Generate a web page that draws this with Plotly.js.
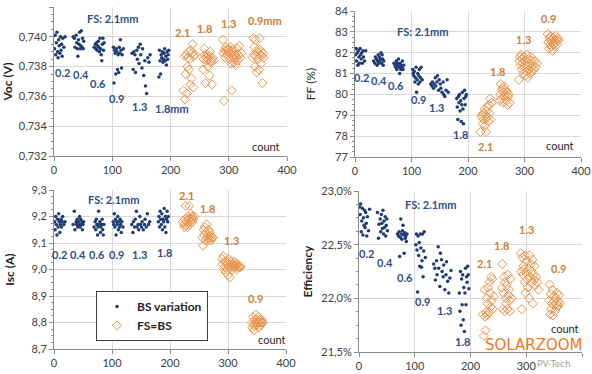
<!DOCTYPE html>
<html>
<head>
<meta charset="utf-8">
<script src="https://cdn.plot.ly/plotly-3.0.1.min.js"></script>
<style>html,body{margin:0;padding:0;background:#fff;}#chart{width:592px;height:374px;}</style>
</head>
<body>
<div id="chart"></div>
<script>
// ---- data (count position of each cell) ----
const bsCount = [
  1,2,3,4,5,6,7,8,9,10,11,12,13,14,15,17,19,
  33,35,36,38,39,40,41,42,43,44,45,46,47,48,49,50,51,
  69,71,72,73,74,75,76,77,78,79,80,81,82,83,84,85,86,
  102,103,104,105,106,107,108,109,110,111,112,113,114,115,116,117,119,
  134,136,137,139,140,142,143,145,146,148,149,151,152,154,156,157,159,161,163,165,
  180,181,182,183,184,185,186,187,188,189,190,191,192,193,194,195,196,197
];
const fsCount = [
  222,224,225,226,227,228,229,230,231,232,233,234,235,236,237,238,239,240,242,
  256,257,258,259,260,261,262,263,264,265,266,267,268,269,270,271,272,274,
  290,291,292,293,294,295,296,297,298,299,300,301,302,303,304,305,306,307,308,309,310,311,312,313,314,315,316,318,320,322,
  341,342,343,344,345,346,347,348,349,350,351,352,353,354,355,356,357,358,359,360
];
const vocBS = [
  0.7392,0.7401,0.7388,0.7396,0.7403,0.7390,0.7386,0.7398,0.7394,0.7389,0.7400,0.7391,0.7395,0.7387,0.7399,0.7393,0.7400,
  0.7400,0.7399,0.7393,0.7401,0.7396,0.7392,0.7387,0.7398,0.7395,0.7403,0.7392,0.7394,0.7404,0.7393,0.7399,0.7392,0.7397,
  0.7393,0.7395,0.7392,0.7396,0.7391,0.7394,0.7397,0.7393,0.7390,0.7399,0.7392,0.7388,0.7384,0.7395,0.7399,0.7391,0.7396,
  0.7393,0.7369,0.7391,0.7389,0.7375,0.7392,0.7390,0.7378,0.7388,0.7376,0.7393,0.7389,0.7398,0.7391,0.7379,0.7388,0.7392,
  0.7389,0.7378,0.7390,0.7388,0.7376,0.7391,0.7385,0.7393,0.7382,0.7395,0.7388,0.7379,0.7392,0.7374,0.7384,0.7367,0.7362,0.7386,0.7383,0.7388,
  0.7373,0.7391,0.7384,0.7375,0.7388,0.7386,0.7390,0.7383,0.7385,0.7389,0.7392,0.7384,0.7387,0.7381,0.7390,0.7385,0.7388,0.7391
];
const vocFS = [
  0.7364,0.7387,0.7358,0.7375,0.7388,0.7362,0.7380,0.7386,0.7390,0.7378,0.7385,0.7368,0.7391,0.7372,0.7389,0.7395,0.7366,0.7387,0.7388,
  0.7378,0.7385,0.7392,0.7388,0.7369,0.7386,0.7384,0.7388,0.7380,0.7385,0.7387,0.7374,0.7390,0.7383,0.7384,0.7368,0.7386,0.7384,
  0.7398,0.7389,0.7357,0.7391,0.7386,0.7393,0.7390,0.7388,0.7391,0.7392,0.7390,0.7385,0.7389,0.7393,0.7382,0.7364,0.7391,0.7387,0.7390,0.7383,0.7385,0.7388,0.7381,0.7386,0.7392,0.7384,0.7388,0.7394,0.7386,0.7389,
  0.7386,0.7399,0.7388,0.7393,0.7380,0.7398,0.7387,0.7376,0.7390,0.7385,0.7392,0.7378,0.7399,0.7388,0.7382,0.7390,0.7387,0.7369,0.7389,0.7386
];
const ffBS = [
  81.9,82.2,81.6,82.0,81.4,82.1,81.8,81.5,82.2,81.9,81.7,82.0,81.5,82.1,81.8,81.6,82.1,
  81.6,81.5,81.8,81.7,81.4,81.6,81.9,81.5,81.8,81.6,81.7,82.0,81.5,81.9,81.7,81.4,81.6,
  81.5,81.4,81.3,81.6,81.2,81.5,81.4,81.7,81.3,81.0,81.5,81.2,81.4,81.3,81.6,81.2,81.4,
  81.2,81.0,80.9,81.1,80.6,80.8,81.3,80.1,80.7,81.0,80.5,80.9,81.2,80.6,80.8,81.3,80.7,
  80.5,80.4,80.6,80.3,80.5,80.8,80.4,80.6,80.9,80.2,80.7,80.5,80.3,80.1,80.6,80.0,79.9,80.2,80.7,80.1,
  79.8,79.4,78.8,79.9,79.6,80.0,79.2,79.7,78.7,79.5,80.1,79.3,78.6,79.8,80.2,79.5,79.9,80.0
];
const ffFS = [
  78.2,78.9,79.0,78.6,79.1,78.8,79.3,78.5,79.0,78.2,79.2,78.9,79.4,78.7,79.5,79.1,79.8,78.8,79.6,
  79.7,80.0,80.5,79.8,80.2,80.3,79.6,80.1,80.4,79.9,80.0,80.2,79.7,80.1,79.5,79.9,80.0,79.6,
  80.7,81.6,81.8,81.4,81.9,81.2,81.7,81.5,81.0,81.8,81.3,80.9,81.6,81.1,81.9,81.4,80.8,81.7,81.2,81.5,81.0,81.8,81.3,81.6,81.1,81.4,81.2,81.6,81.3,81.5,
  82.9,82.5,82.2,82.7,82.4,82.8,82.3,82.6,82.5,82.1,82.7,82.4,82.6,82.3,82.8,82.5,82.6,82.4,82.7,82.6
];
const iscBS = [
  9.18,9.15,9.20,9.17,9.13,9.19,9.16,9.21,9.18,9.14,9.17,9.19,9.16,9.18,9.20,9.17,9.18,
  9.17,9.22,9.15,9.18,9.17,9.19,9.16,9.18,9.17,9.20,9.16,9.19,9.17,9.18,9.15,9.17,9.18,
  9.16,9.18,9.15,9.19,9.17,9.13,9.16,9.22,9.17,9.18,9.14,9.16,9.17,9.19,9.15,9.13,9.17,
  9.18,9.17,9.21,9.16,9.19,9.13,9.18,9.17,9.20,9.15,9.18,9.16,9.19,9.17,9.14,9.18,9.16,
  9.17,9.14,9.18,9.16,9.19,9.22,9.16,9.17,9.15,9.20,9.17,9.16,9.18,9.15,9.17,9.19,9.16,9.21,9.17,9.18,
  9.18,9.20,9.16,9.22,9.19,9.17,9.21,9.15,9.19,9.18,9.23,9.16,9.20,9.14,9.19,9.22,9.18,9.20
];
const iscFS = [
  9.18,9.17,9.16,9.19,9.24,9.18,9.17,9.16,9.20,9.19,9.24,9.17,9.18,9.21,9.19,9.20,9.18,9.19,9.20,
  9.12,9.09,9.15,9.13,9.16,9.11,9.14,9.17,9.12,9.13,9.11,9.15,9.12,9.14,9.13,9.11,9.12,9.12,
  9.04,9.02,9.05,9.00,9.03,9.01,8.99,9.03,9.02,9.00,8.98,9.04,9.01,8.97,9.02,9.03,9.01,9.00,9.02,9.01,9.02,9.03,9.01,9.02,9.01,9.00,9.02,9.01,9.01,9.01,
  8.80,8.78,8.82,8.79,8.77,8.81,8.80,8.83,8.79,8.81,8.80,8.82,8.78,8.80,8.81,8.79,8.80,8.81,8.80,8.80
];
const effBS = [
  22.85,22.78,22.88,22.62,22.72,22.84,22.59,22.75,22.68,22.82,22.66,22.80,22.70,22.58,22.76,22.63,22.83,
  22.80,22.56,22.69,22.74,22.62,22.78,22.70,22.65,22.82,22.60,22.72,22.66,22.76,22.58,22.68,22.74,22.63,
  22.60,22.58,22.62,22.39,22.57,22.74,22.60,22.55,22.63,22.68,22.59,22.42,22.61,22.56,22.58,22.53,22.60,
  22.50,22.60,22.45,22.06,22.58,22.40,22.52,22.30,22.60,22.47,22.29,22.35,22.60,22.20,22.44,22.62,22.38,
  22.32,22.28,22.17,22.35,22.22,22.48,22.28,22.11,22.42,22.36,22.25,22.20,22.31,22.08,22.22,22.34,22.16,22.05,22.19,22.26,
  22.05,21.88,22.25,21.75,22.18,21.94,22.22,21.80,22.10,21.69,22.05,22.28,21.94,22.20,22.15,22.30,22.22,22.09
];
const effFS = [
  21.85,21.65,22.08,21.83,21.70,21.87,22.00,21.84,21.95,22.10,21.87,22.15,22.05,21.92,22.20,21.98,22.18,21.90,22.02,
  22.10,22.32,21.90,22.05,22.20,21.88,22.15,22.00,21.95,22.12,21.90,22.22,22.03,22.08,21.98,21.88,22.18,22.00,
  22.42,22.25,21.90,22.38,22.22,22.30,22.27,22.15,22.40,22.05,22.24,22.35,22.18,22.10,22.28,22.00,22.40,22.20,22.32,22.14,22.25,22.36,21.95,22.22,22.17,22.30,22.12,22.20,22.15,22.08,
  21.98,22.13,21.85,22.04,21.90,21.95,22.08,21.84,21.97,22.02,21.93,21.88,22.00,21.95,22.05,21.92,21.97,21.94,22.03,21.96
];
const seriesNames = ["BS variation", "FS=BS"];
const bsLabels = ["0.2", "0.4", "0.6", "0.9", "1.3", "1.8"];
const fsLabels = ["2.1", "1.8", "1.3", "0.9"];
const yTitles = ["Voc (V)", "FF (%)", "Isc (A)", "Efficiency"];

// ---- styling ----
const BLUE = "#1f3b73", ORANGE = "#e8964f";
const BLUE_TXT = "#2f4e86", ORANGE_TXT = "#cf7d33";
const FONT = "Lato, 'Open Sans', sans-serif";

const panels = [
  {bs: vocBS, fs: vocFS},
  {bs: ffBS, fs: ffFS},
  {bs: iscBS, fs: iscFS},
  {bs: effBS, fs: effFS}
];
const traces = [];
panels.forEach((p, i) => {
  const n = i + 1;
  const xa = n === 1 ? "x" : "x" + n, ya = n === 1 ? "y" : "y" + n;
  traces.push({
    type: "scatter", mode: "markers", x: bsCount, y: p.bs, xaxis: xa, yaxis: ya,
    name: "<b>" + seriesNames[0] + "</b>", showlegend: n === 3, legendrank: 1,
    marker: {symbol: "circle", size: 3.5, color: BLUE}
  });
  traces.push({
    type: "scatter", mode: "markers", x: fsCount, y: p.fs, xaxis: xa, yaxis: ya,
    name: "<b>" + seriesNames[1] + "</b>", showlegend: n === 3, legendrank: 2,
    marker: {symbol: "diamond-open", size: 7, color: ORANGE, line: {width: 1, color: ORANGE}}
  });
});

function xAxis(domain, anchor) {
  return {
    domain: domain, anchor: anchor, range: [0, 400], dtick: 100, tick0: 0,
    showline: true, linecolor: "#8c8c8c", linewidth: 1, ticks: "outside", ticklen: 4, tickcolor: "#8c8c8c",
    showgrid: true, gridcolor: "#d9d9d9", gridwidth: 1, zeroline: false,
    tickfont: {size: 11, color: "#404040", family: FONT}, fixedrange: true
  };
}
function yAxis(domain, anchor, range, dtick, fmt, title, bold, standoff, suffix) {
  return {
    domain: domain, anchor: anchor, range: range, dtick: dtick, tick0: range[0], tickformat: fmt,
    ticksuffix: suffix || "",
    showline: true, linecolor: "#8c8c8c", linewidth: 1, ticks: "outside", ticklen: 4, tickcolor: "#8c8c8c",
    minor: {ticks: "outside", ticklen: 2, tickcolor: "#8c8c8c", dtick: dtick / 4, showgrid: false},
    showgrid: true, gridcolor: "#d9d9d9", gridwidth: 1, zeroline: false,
    tickfont: {size: 11, color: "#404040", family: FONT},
    title: {text: bold ? "<b>" + title + "</b>" : title, font: {size: 12, color: "#262626", family: FONT}, standoff: standoff},
    fixedrange: true
  };
}

const W = 592, H = 374;
const dx = (a, b) => [a / W, b / W];
const dy = (top, bottom) => [1 - bottom / H, 1 - top / H];

const layout = {
  width: W, height: H,
  margin: {l: 0, r: 0, t: 0, b: 0},
  paper_bgcolor: "#ffffff", plot_bgcolor: "#ffffff",
  separators: ", ",
  font: {family: FONT, size: 11, color: "#404040"},
  showlegend: true,
  legend: {
    x: 96 / W, y: 1 - 291 / H, xanchor: "left", yanchor: "top",
    bgcolor: "#ffffff", bordercolor: "#404040", borderwidth: 1,
    font: {size: 12, color: "#262626", family: FONT},
    itemwidth: 30, tracegroupgap: 0, traceorder: "normal"
  },
  xaxis: xAxis(dx(54, 287), "y"),
  yaxis: yAxis(dy(7, 156), "x", [0.732, 0.742], 0.002, ".3f", yTitles[0], true, 8),
  xaxis2: xAxis(dx(355, 581), "y2"),
  yaxis2: yAxis(dy(11, 157), "x2", [77, 84], 1, "d", yTitles[1], false, 16),
  xaxis3: xAxis(dx(54, 286), "y3"),
  yaxis3: yAxis(dy(190, 349), "x3", [8.7, 9.3], 0.1, ".1f", yTitles[2], true, 14),
  xaxis4: xAxis(dx(359, 582), "y4"),
  yaxis4: yAxis(dy(191, 352), "x4", [21.5, 23.0], 0.5, ".1f", yTitles[3], true, 6, "%"),
  annotations: []
};

function ann(n, x, y, text, color, size, bold) {
  const xr = n === 1 ? "x" : "x" + n, yr = n === 1 ? "y" : "y" + n;
  layout.annotations.push({
    xref: xr, yref: yr, x: x, y: y, text: bold === false ? text : "<b>" + text + "</b>",
    showarrow: false, xanchor: "center", yanchor: "middle",
    font: {size: size || 11, color: color, family: FONT}
  });
}

// Voc panel labels
ann(1, 101, 0.7412, "FS: 2.1mm", BLUE_TXT);
[[14, 0.73758], [47, 0.73745], [76, 0.73684], [108, 0.73583], [146, 0.73529]].forEach((p, k) => ann(1, p[0], p[1], bsLabels[k], BLUE_TXT));
ann(1, 203, 0.73516, bsLabels[5] + "mm", BLUE_TXT);
[[220, 0.74027], [258, 0.74054], [299, 0.74088]].forEach((p, k) => ann(1, p[0], p[1], fsLabels[k], ORANGE_TXT));
ann(1, 363, 0.74108, fsLabels[3] + "mm", ORANGE_TXT);
ann(1, 364, 0.73262, "count", "#262626", 11, false);

// FF panel labels
ann(2, 120, 83.0, "FS: 2.1mm", BLUE_TXT);
[[11, 80.81], [42, 80.68], [73, 80.44], [113, 79.77], [145, 79.37], [186, 78.09]].forEach((p, k) => ann(2, p[0], p[1], bsLabels[k], BLUE_TXT));
[[231, 77.48], [253, 81.08], [298, 82.65], [343, 83.65]].forEach((p, k) => ann(2, p[0], p[1], fsLabels[k], ORANGE_TXT));
ann(2, 362, 77.53, "count", "#262626", 11, false);

// Isc panel labels
ann(3, 102, 9.266, "FS: 2.1mm", BLUE_TXT);
[[9, 9.055], [42, 9.055], [74, 9.055], [108, 9.055], [148, 9.055], [190, 9.065]].forEach((p, k) => ann(3, p[0], p[1], bsLabels[k], BLUE_TXT));
[[228, 9.279], [264, 9.231], [306, 9.111], [347, 8.889]].forEach((p, k) => ann(3, p[0], p[1], fsLabels[k], ORANGE_TXT));
ann(3, 375, 8.734, "count", "#262626", 11, false);

// Efficiency panel labels
ann(4, 129, 22.87, "FS: 2.1mm", BLUE_TXT);
[[13, 22.42], [47, 22.33], [83, 22.19], [114, 21.97], [154, 21.89], [186, 21.60]].forEach((p, k) => ann(4, p[0], p[1], bsLabels[k], BLUE_TXT));
[[225, 22.32], [255, 22.49], [300, 22.64], [358, 22.28]].forEach((p, k) => ann(4, p[0], p[1], fsLabels[k], ORANGE_TXT));
ann(4, 370, 21.72, "count", "#262626", 11, false);

// watermark
layout.annotations.push({xref: "paper", yref: "paper", x: 534 / W, y: 1 - 345 / H, text: "SOLARZOOM",
  showarrow: false, xanchor: "center", yanchor: "middle",
  font: {size: 15, color: "#f07a22", family: "'DejaVu Sans', sans-serif"}});
layout.annotations.push({xref: "paper", yref: "paper", x: 554 / W, y: 1 - 364 / H, text: "PV-Tech",
  showarrow: false, xanchor: "center", yanchor: "middle",
  font: {size: 9, color: "#a0a0a0", family: "'DejaVu Sans', sans-serif"}});

Plotly.newPlot("chart", traces, layout, {displayModeBar: false, staticPlot: true});
</script>
</body>
</html>
